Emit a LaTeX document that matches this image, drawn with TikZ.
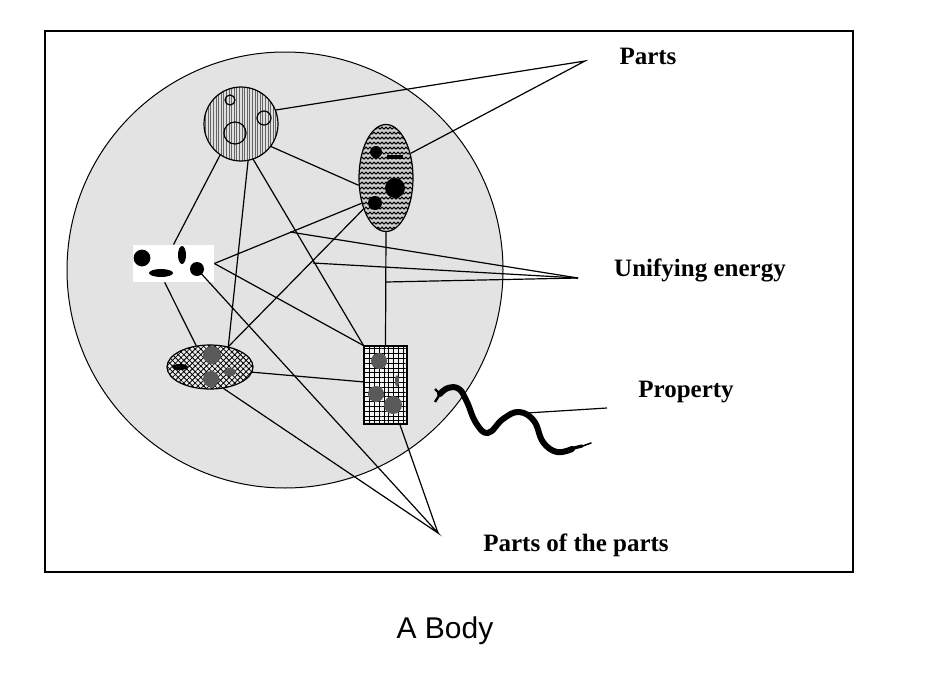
\documentclass[tikz,border=0pt]{standalone}
\usepackage{fontspec}
\setmainfont{Liberation Serif}
\newfontfamily\captionfont{Liberation Sans}
\usetikzlibrary{calc,patterns,patterns.meta,shapes.geometric}
\pgfdeclarepatternformonly{zigzag}{\pgfqpoint{-1pt}{-1pt}}{\pgfqpoint{3pt}{3.5pt}}{\pgfqpoint{2pt}{2.5pt}}{%
  \pgfsetlinewidth{0.5pt}%
  \pgfpathmoveto{\pgfqpoint{0pt}{0.4pt}}%
  \pgfpathlineto{\pgfqpoint{1pt}{1.5pt}}%
  \pgfpathlineto{\pgfqpoint{2pt}{0.4pt}}%
  \pgfusepath{stroke}}

\begin{document}
\begin{tikzpicture}[x=0.5pt, y=-0.5pt,
		link/.style={line width=0.6pt},
		lbl/.style={font=\fontsize{12.5}{15}\selectfont\bfseries},
		greydot/.style={fill=black!65}]
		%%%%% START %%%%%
		\useasboundingbox (0,0) rectangle (932,680);
		
		\draw[line width=0.9pt] (45,31) rectangle (853,572);
		\node[circle, draw, line width=0.5pt, fill=gray!22, minimum size=218pt, inner sep=0pt] (body) at (285,270) {};
		
		% the parts
		\node[circle, draw, line width=0.6pt, minimum size=37pt, inner sep=0pt, preaction={fill=gray!25}, pattern={Lines[angle=90,distance=1.3pt,line width=0.25pt]}, pattern color=black!60] (part1) at (241,124) {};
		\draw[line width=0.6pt] (230,100) circle (2.5pt);
		\draw[line width=0.6pt] (264,118) circle (3.5pt);
		\draw[line width=0.6pt] (235,133) circle (5.5pt);
		
		\node[ellipse, draw, line width=0.6pt, minimum width=27pt, minimum height=53.5pt, inner sep=0pt, preaction={fill=gray!40}, pattern=zigzag] (part2) at (386,178) {};
		\fill (376,152) circle (3pt);
		\fill (387,155) rectangle (403,159);
		\fill (395,188) circle (5pt);
		\fill (375,203) circle (3.5pt);
		
		\node[rectangle, fill=white, minimum width=40.5pt, minimum height=18.5pt, inner sep=0pt] (part3) at (173.5,263.5) {};
		\fill (142,258) circle (4.2pt);
		\fill (182,255) ellipse [x radius=2pt, y radius=4.5pt];
		\fill (161,273) ellipse [x radius=6pt, y radius=2pt];
		\fill (197,269) circle (3.5pt);
		\coordinate (b4) at (197,269);
		
		\node[ellipse, draw, line width=0.6pt, minimum width=43pt, minimum height=22pt, inner sep=0pt, preaction={fill=gray!15}, pattern={Hatch[angle=45,distance=2pt,line width=0.4pt]}] (part4) at (210,367) {};
		\fill[greydot] (212,355) circle (4.5pt);
		\fill[greydot] (211,379) circle (4pt);
		\fill[greydot] (230,372) ellipse [x radius=3pt, y radius=2pt];
		\fill (180,367) ellipse [x radius=4pt, y radius=1.5pt];
		
		\node[rectangle, draw, line width=0.6pt, minimum width=21.5pt, minimum height=39pt, inner sep=0pt, preaction={fill=gray!10}, pattern={Hatch[angle=0,distance=2.4pt,line width=0.4pt]}] (part5) at (385.5,385) {};
		\fill[greydot] (379,361) circle (4pt);
		\fill[greydot] (376,394) circle (4pt);
		\fill[greydot] (393,405) circle (4.5pt);
		\fill[greydot] (397,381) ellipse [x radius=1pt, y radius=3pt];
		
		% property
		\draw[line width=3pt, line cap=round, line join=round] plot[smooth, tension=0.7] coordinates {(440,394) (448,388) (459,389) (467,402) (476,423) (488,433) (503,419) (519,412) (534,421) (543,442) (557,452) (572,449)};
		\draw[line width=1.6pt, line cap=round] (570,449) -- (582,446);
		\draw[line width=0.8pt, line cap=round] (580,447) -- (591,443);
		\draw[line width=1.2pt] (440,394) -- (435,389);
		\draw[line width=1.2pt] (440,394) -- (435,402);
		\coordinate (tail) at (527,413);
		
		% label points
		\coordinate (partsPt) at (585,61);
		\coordinate (energyPt) at (578,278);
		\coordinate (subPt) at (438,533);
		\coordinate (propPt) at (607,408);
		\coordinate (e1) at (290,232);
		\coordinate (e2) at (313,263);
		\coordinate (e3) at (386,282);
		
		% links
		\draw[link] (part1.22) -- (partsPt) -- (part2.45);
		\draw[link] (part1.-37) -- (part2.-165);
		\draw[link] (part1.-124) -- (part3.north);
		\draw[link] (part1.-79) -- (part4.48);
		\draw[link] (part1.-71) -- (part5.north west);
		\draw[link] (part2.-134) -- (part3.east);
		\draw[link] (part2.-126) -- (part4.48);
		\draw[link] (part2.south) -- (part5.north);
		\draw[link] (part3.east) -- (part5.north west);
		\draw[link] (part3.-115) -- (part4.123);
		\draw[link] (part4.-7) -- (part5.172);
		\draw[link] (e1) -- (energyPt);
		\draw[link] (e2) -- (energyPt);
		\draw[link] (e3) -- (energyPt);
		\draw[link] (b4) -- (subPt) -- (part4.-58);
		\draw[link] (part5.-70) -- (subPt);
		\draw[link] (tail) -- (propPt);
		
		% labels
		\node[lbl] (partsLbl) at (648,56) {Parts};
		\node[lbl] (energyLbl) at (700,270) {Unifying energy};
		\node[lbl] (propLbl) at (686,392) {Property};
		\node[lbl] (subLbl) at (576,545) {Parts of the parts};
		\node[font=\captionfont\fontsize{15}{18}\selectfont] (caption) at (445,631) {A Body};
		%%%%% END %%%%%
	\end{tikzpicture}
\end{document}
